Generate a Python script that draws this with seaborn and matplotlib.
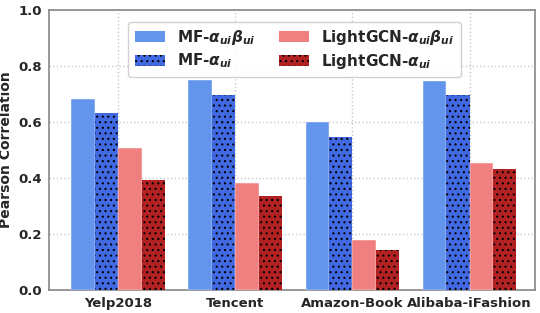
import matplotlib
matplotlib.use("Agg")
import matplotlib.pyplot as plt
import seaborn as sns
import pandas as pd
from matplotlib.patches import Patch

datasets = ["Yelp2018", "Tencent", "Amazon-Book", "Alibaba-iFashion"]
methods = [r"MF-$\boldsymbol{\alpha_{ui}\beta_{ui}}$",
           r"MF-$\boldsymbol{\alpha_{ui}}$",
           r"LightGCN-$\boldsymbol{\alpha_{ui}\beta_{ui}}$",
           r"LightGCN-$\boldsymbol{\alpha_{ui}}$"]
mf_ab = [0.682, 0.750, 0.600, 0.746]
mf_a = [0.632, 0.695, 0.546, 0.696]
lg_ab = [0.507, 0.383, 0.179, 0.453]
lg_a = [0.392, 0.336, 0.142, 0.431]
colors = ["#6495ED", "#4169E1", "#F08080", "#B22222"]
hatches = ["", "...", "", "..."]

rows = []
for m, vals in zip(methods, [mf_ab, mf_a, lg_ab, lg_a]):
    for d, v in zip(datasets, vals):
        rows.append({"dataset": d, "method": m, "value": v})
df = pd.DataFrame(rows)

sns.set_style("white")
plt.rcParams["font.family"] = ["DejaVu Sans"]
plt.rcParams["font.weight"] = "bold"
plt.rcParams["hatch.color"] = "black"
plt.rcParams["hatch.linewidth"] = 0.8

fig = plt.figure(figsize=(5.4, 3.13), dpi=100)
ax = fig.add_axes([0.091, 0.0735, 0.9, 0.8945])

sns.barplot(data=df, x="dataset", y="value", hue="method", palette=colors,
            saturation=1, width=0.8, ax=ax, legend=False, zorder=3)

for i, cont in enumerate(ax.containers):
    for p in cont.patches:
        p.set_hatch(hatches[i])
        p.set_edgecolor("white" if hatches[i] == "" else "black")
        p.set_linewidth(0.3 if hatches[i] == "" else 0)

ax.set_ylim(0, 1.0)
ax.set_xlim(-0.59, 3.56)
ax.set_yticks([0.0, 0.2, 0.4, 0.6, 0.8, 1.0])
ax.set_yticklabels(["0.0", "0.2", "0.4", "0.6", "0.8", "1.0"], fontsize=9.5, fontweight="bold")
ax.set_xticks(range(len(datasets)))
ax.set_xticklabels(datasets, fontsize=9.5, fontweight="bold")
ax.set_xlabel("")
ax.set_ylabel("Pearson Correlation", fontsize=10, fontweight="bold", labelpad=4)
ax.grid(True, linestyle=":", color="#c8c8c8", linewidth=1, zorder=0)
ax.set_axisbelow(True)
ax.tick_params(axis="both", length=3, pad=2)
for s in ax.spines.values():
    s.set_color("#888888")
    s.set_linewidth(1.2)

handles = [Patch(facecolor=c, hatch=h, edgecolor=("black" if h else "white"),
                 linewidth=0, label=m)
           for c, h, m in zip(colors, hatches, methods)]
ax.legend(handles, methods, ncol=2, loc="upper center", bbox_to_anchor=(0.505, 0.985),
          prop={"weight": "bold", "size": 11}, handlelength=2.0,
          labelspacing=0.3, columnspacing=1.5, framealpha=0.9)

fig.savefig("out.png", dpi=100)
